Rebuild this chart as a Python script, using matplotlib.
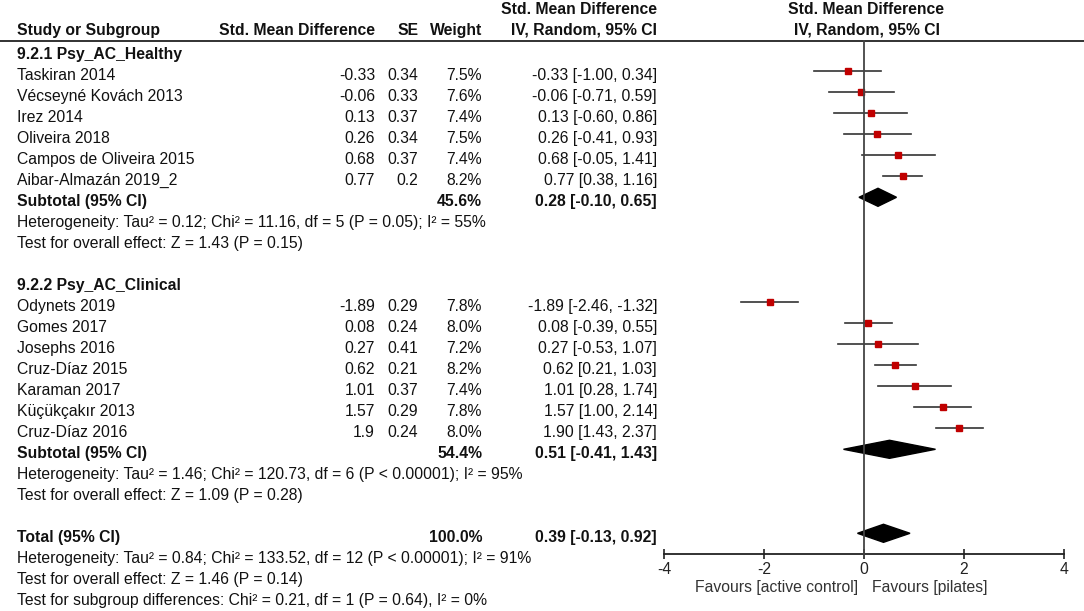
import matplotlib
matplotlib.use("Agg")
import matplotlib.pyplot as plt
from matplotlib.patches import Polygon

plt.rcParams['font.family'] = ['Liberation Sans', 'DejaVu Sans']
plt.rcParams['axes.unicode_minus'] = False

# study data
g1_names = ["Taskiran 2014", "Vécseyné Kovách 2013", "Irez 2014", "Oliveira 2018",
            "Campos de Oliveira 2015", "Aibar-Almazán 2019_2"]
g1_smd = [-0.33, -0.06, 0.13, 0.26, 0.68, 0.77]
g1_se = [0.34, 0.33, 0.37, 0.34, 0.37, 0.2]
g1_weight = [7.5, 7.6, 7.4, 7.5, 7.4, 8.2]
g1_lo = [-1.00, -0.71, -0.60, -0.41, -0.05, 0.38]
g1_hi = [0.34, 0.59, 0.86, 0.93, 1.41, 1.16]

g2_names = ["Odynets 2019", "Gomes 2017", "Josephs 2016", "Cruz-Díaz 2015",
            "Karaman 2017", "Küçükçakır 2013", "Cruz-Díaz 2016"]
g2_smd = [-1.89, 0.08, 0.27, 0.62, 1.01, 1.57, 1.9]
g2_se = [0.29, 0.24, 0.41, 0.21, 0.37, 0.29, 0.24]
g2_weight = [7.8, 8.0, 7.2, 8.2, 7.4, 7.8, 8.0]
g2_lo = [-2.46, -0.39, -0.53, 0.21, 0.28, 1.00, 1.43]
g2_hi = [-1.32, 0.55, 1.07, 1.03, 1.74, 2.14, 2.37]

# pooled estimates: (weight, est, lo, hi)
sub1 = (45.6, 0.28, -0.10, 0.65)
sub2 = (54.4, 0.51, -0.41, 1.43)
total = (100.0, 0.39, -0.13, 0.92)

het1 = "Heterogeneity: Tau² = 0.12; Chi² = 11.16, df = 5 (P = 0.05); I² = 55%"
eff1 = "Test for overall effect: Z = 1.43 (P = 0.15)"
het2 = "Heterogeneity: Tau² = 1.46; Chi² = 120.73, df = 6 (P < 0.00001); I² = 95%"
eff2 = "Test for overall effect: Z = 1.09 (P = 0.28)"
het_t = "Heterogeneity: Tau² = 0.84; Chi² = 133.52, df = 12 (P < 0.00001); I² = 91%"
eff_t = "Test for overall effect: Z = 1.46 (P = 0.14)"
sub_diff = "Test for subgroup differences: Chi² = 0.21, df = 1 (P = 0.64), I² = 0%"

# layout (pixels / rows)
W, H = 1084, 611
ROW0, ROWH = 50.3, 21.0
y_top = -ROW0 / ROWH
y_bot = (H - ROW0) / ROWH
FS = 11.3
TXT = 0.22  # text sits a little below the marks
HDR = 0.05  # header rows sit a bit higher
X_NAME, X_SMD, X_SE, X_W, X_CI = 17, 375, 418, 482, 657

fig = plt.figure(figsize=(W / 100, H / 100), dpi=100)
tx = fig.add_axes([0, 0, 1, 1])
tx.set_xlim(0, W)
tx.set_ylim(y_bot, y_top)
tx.axis('off')

fx = fig.add_axes([664 / W, 0, 400 / W, 1])
fx.set_xlim(-4, 4)
fx.set_ylim(y_bot, y_top)
fx.patch.set_visible(False)


def t(x, row, s, ha='left', bold=False, size=FS, off=TXT):
    tx.text(x, row + off, s, ha=ha, va='center', fontsize=size,
            fontweight='bold' if bold else 'normal', color='#111111')


# headers
t(X_CI, -2, "Std. Mean Difference", ha='right', bold=True, off=HDR)
t(X_NAME, -1, "Study or Subgroup", bold=True, off=HDR)
t(X_SMD, -1, "Std. Mean Difference", ha='right', bold=True, off=HDR)
t(X_SE, -1, "SE", ha='right', bold=True, off=HDR)
t(X_W, -1, "Weight", ha='right', bold=True, off=HDR)
t(X_CI, -1, "IV, Random, 95% CI", ha='right', bold=True, off=HDR)
fx.text(0.04, -2 + HDR, "Std. Mean Difference", ha='center', va='center',
        fontsize=FS, fontweight='bold', color='#111111')
fx.text(0.06, -1 + HDR, "IV, Random, 95% CI", ha='center', va='center',
        fontsize=FS, fontweight='bold', color='#111111')
tx.plot([0, W], [-0.443, -0.443], color='#222222', lw=1.3)


def study_rows(start, names, smd, se, wt, lo, hi):
    for i in range(len(names)):
        r = start + i
        t(X_NAME, r, names[i])
        t(X_SMD, r, str(smd[i]), ha='right')
        t(X_SE, r, str(se[i]), ha='right')
        t(X_W, r, f"{wt[i]:.1f}%", ha='right')
        t(X_CI, r, f"{smd[i]:.2f} [{lo[i]:.2f}, {hi[i]:.2f}]", ha='right')
        fx.plot([lo[i], hi[i]], [r, r], color='#333333', lw=1.2, zorder=2)
        fx.plot(smd[i], r, marker='s', ms=wt[i] * 0.57, color='#c00000',
                mec='#c00000', zorder=3)


def pooled_row(r, label, vals):
    wt, est, lo, hi = vals
    t(X_NAME, r, label, bold=True)
    t(X_W, r, f"{wt:.1f}%", ha='right', bold=True)
    t(X_CI, r, f"{est:.2f} [{lo:.2f}, {hi:.2f}]", ha='right', bold=True)
    fx.add_patch(Polygon([(lo, r), (est, r - 0.43), (hi, r), (est, r + 0.43)],
                         closed=True, color='black', zorder=3))


t(X_NAME, 0, "9.2.1 Psy_AC_Healthy", bold=True)
study_rows(1, g1_names, g1_smd, g1_se, g1_weight, g1_lo, g1_hi)
pooled_row(7, "Subtotal (95% CI)", sub1)
t(X_NAME, 8, het1)
t(X_NAME, 9, eff1)

t(X_NAME, 11, "9.2.2 Psy_AC_Clinical", bold=True)
study_rows(12, g2_names, g2_smd, g2_se, g2_weight, g2_lo, g2_hi)
pooled_row(19, "Subtotal (95% CI)", sub2)
t(X_NAME, 20, het2)
t(X_NAME, 21, eff2)

pooled_row(23, "Total (95% CI)", total)
t(X_NAME, 24, het_t)
t(X_NAME, 25, eff_t)
t(X_NAME, 26, sub_diff)

# zero line and axis
fx.plot([0, 0], [-0.443, 24], color='#444444', lw=1.3, zorder=4)
for s in ['top', 'right', 'left']:
    fx.spines[s].set_visible(False)
fx.spines['bottom'].set_position(('data', 24))
fx.spines['bottom'].set_bounds(-4, 4)
fx.spines['bottom'].set_linewidth(1.3)
fx.spines['bottom'].set_color('#222222')
fx.set_yticks([])
fx.set_xticks([-4, -2, 0, 2, 4])
fx.tick_params(axis='x', direction='inout', length=7, width=1.2,
               labelsize=11.3, pad=2, colors='#222222')
fx.text(-0.12, 25.6, "Favours [active control]", ha='right', va='center',
        fontsize=11.3, color='#333333')
fx.text(0.16, 25.6, "Favours [pilates]", ha='left', va='center',
        fontsize=11.3, color='#333333')

fig.savefig("out.png", dpi=100)
